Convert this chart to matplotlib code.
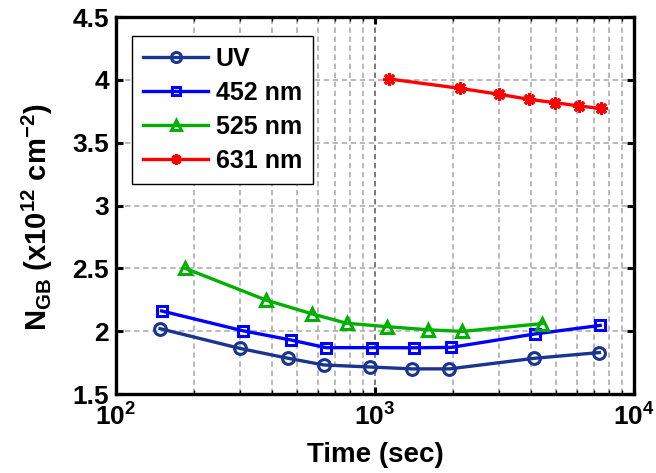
import math
import matplotlib
matplotlib.use("Agg")
import matplotlib.pyplot as plt
from matplotlib.ticker import FixedLocator, FuncFormatter, NullFormatter

fam = 'Liberation Sans'
plt.rcParams['font.family'] = [fam, 'DejaVu Sans']
plt.rcParams['font.weight'] = 'bold'
plt.rcParams['mathtext.fontset'] = 'custom'
plt.rcParams['mathtext.rm'] = fam + ':bold'
plt.rcParams['mathtext.bf'] = fam + ':bold'
plt.rcParams['mathtext.it'] = fam + ':bold'

# Data
labels = ['UV', '452 nm', '525 nm', '631 nm']
t_uv = [148, 301, 463, 635, 957, 1393, 1936, 4110, 7350]
n_uv = [2.02, 1.863, 1.784, 1.731, 1.715, 1.70, 1.70, 1.784, 1.83]
t_452 = [150, 308, 473, 647, 971, 1413, 1968, 4150, 7400]
n_452 = [2.161, 2.004, 1.930, 1.869, 1.869, 1.868, 1.871, 1.978, 2.046]
t_525 = [185, 379, 573, 778, 1110, 1607, 2173, 4405]
n_525 = [2.50, 2.248, 2.137, 2.063, 2.036, 2.011, 1.998, 2.06]
t_631 = [1133, 2120, 3020, 3930, 4970, 6130, 7430]
n_631 = [4.007, 3.933, 3.885, 3.845, 3.818, 3.792, 3.773]
y_ticks = [1.5, 2, 2.5, 3, 3.5, 4, 4.5]
y_ticklabels = ['1.5', '2', '2.5', '3', '3.5', '4', '4.5']
x_ticks = [100, 1000, 10000]

colors = ['#1a3490', '#0000ff', '#00b000', '#ff0000']
markers = ['o', 's', '^', (8, 2, 0)]
msizes = [8.5, 7.5, 8.5, 9]

fig = plt.figure(figsize=(6.56, 4.73), dpi=100)
ax = fig.add_axes([0.1768, 0.167, 0.7897, 0.797])

series = [(t_uv, n_uv), (t_452, n_452), (t_525, n_525), (t_631, n_631)]
for (t, n), lab, c, m, ms in zip(series, labels, colors, markers, msizes):
    ax.plot(t, n, color=c, lw=2.4, marker=m, ms=ms,
            mfc=c if m == (8, 2, 0) else 'none',
            mec=c, mew=2.2, label=lab, zorder=3)

ax.set_xscale('log')
ax.set_xlim(100, 10000)
ax.set_ylim(1.5, 4.5)
ax.set_yticks(y_ticks)
ax.set_yticklabels(y_ticklabels)
ax.xaxis.set_major_locator(FixedLocator(x_ticks))
ax.xaxis.set_major_formatter(FuncFormatter(lambda v, p: r'$\mathbf{10^{%d}}$' % round(math.log10(v))))
ax.xaxis.set_minor_locator(FixedLocator([k * 10 ** e for e in (2, 3) for k in range(2, 10)]))
ax.xaxis.set_minor_formatter(NullFormatter())

ax.tick_params(axis='both', which='major', direction='in', length=5, width=2.2,
               labelsize=19, top=True, right=True)
ax.tick_params(axis='x', which='major', pad=7)
ax.tick_params(axis='y', which='major', pad=5)
ax.tick_params(axis='x', which='minor', direction='in', length=3, width=1, top=True)
for s in ax.spines.values():
    s.set_linewidth(2.4)

ax.grid(True, which='major', axis='y', color='#b4b4b4', ls=(0, (3, 2)), lw=1.3)
ax.grid(True, which='major', axis='x', color='#707070', ls=(0, (3, 2)), lw=1.3)
ax.grid(True, which='minor', axis='x', color='#b4b4b4', ls=(0, (3, 2)), lw=1.3)

ax.set_xlabel('Time (sec)', fontsize=20, fontweight='bold', labelpad=8)
ax.set_ylabel(r'$\mathbf{N_{GB}}$ (x10$^{\mathbf{12}}$ cm$^{\mathbf{-2}}$)', fontsize=21,
              fontweight='bold')
ax.yaxis.set_label_coords(-0.117, 0.47)

leg = ax.legend(loc='upper left', bbox_to_anchor=(0.031, 0.95), fontsize=18,
                frameon=True, fancybox=False, edgecolor='black', handlelength=2.6,
                handletextpad=0.3, borderpad=0.45, labelspacing=0.4,
                borderaxespad=0, markerscale=0.85)
leg.get_frame().set_linewidth(1.0)
leg.get_frame().set_alpha(1)
for t in leg.get_texts():
    t.set_fontweight('bold')

fig.savefig('out.png', dpi=100)
